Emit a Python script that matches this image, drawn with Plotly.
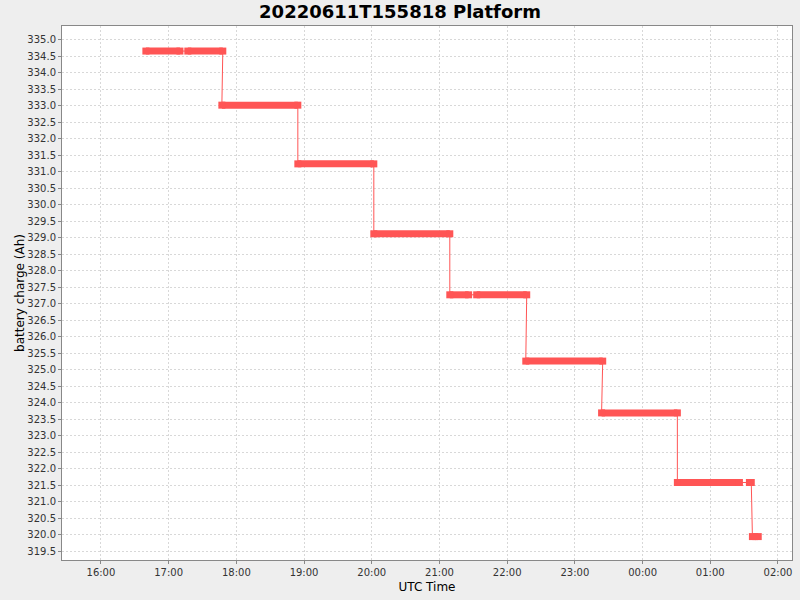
import plotly.graph_objects as go

# flat charge levels, each held between a start and an end time (UTC)
seg_start = ['2022-06-11 16:39:50', '2022-06-11 17:17:00', '2022-06-11 17:47:10',
             '2022-06-11 18:54:30', '2022-06-11 20:01:50', '2022-06-11 21:09:10',
             '2022-06-11 21:33:00', '2022-06-11 22:16:30', '2022-06-11 23:23:40',
             '2022-06-12 00:30:50', '2022-06-12 01:34:40', '2022-06-12 01:37:20']
seg_end = ['2022-06-11 17:10:00', '2022-06-11 17:48:00', '2022-06-11 18:54:30',
           '2022-06-11 20:01:50', '2022-06-11 21:09:10', '2022-06-11 21:25:50',
           '2022-06-11 22:17:20', '2022-06-11 23:24:40', '2022-06-12 00:30:50',
           '2022-06-12 01:25:50', '2022-06-12 01:36:20', '2022-06-12 01:42:30']
seg_value = [334.66, 334.66, 333.02, 331.24, 329.12, 327.27,
             327.27, 325.26, 323.69, 321.58, 321.58, 319.94]

y_ticks = [319.5 + 0.5 * i for i in range(32)]

RED = '#ff5555'

# thin line through every point, thick bar along every flat level
x_thin, y_thin, x_bar, y_bar = [], [], [], []
for s, e, v in zip(seg_start, seg_end, seg_value):
    x_thin += [s, e]
    y_thin += [v, v]
    x_bar += [s, e, None]
    y_bar += [v, v, None]

fig = go.Figure()
fig.add_trace(go.Scatter(x=x_thin, y=y_thin, mode='lines',
                         line=dict(color=RED, width=1), showlegend=False))
fig.add_trace(go.Scatter(x=x_bar, y=y_bar, mode='lines+markers',
                         line=dict(color=RED, width=7),
                         marker=dict(symbol='square', size=7, color=RED, line=dict(width=0)),
                         showlegend=False))

axis_common = dict(
    showline=True, linecolor='#888888', linewidth=1, mirror=True,
    showgrid=True, gridcolor='#d8d8d8', griddash='2px,2px', gridwidth=1,
    ticks='outside', ticklen=3, tickcolor='#888888',
    tickfont=dict(family='DejaVu Sans', size=10, color='#333333'),
    zeroline=False, automargin=False,
)

fig.update_xaxes(
    **axis_common,
    range=['2022-06-11 15:25:30', '2022-06-12 02:12:25'],
    tickformat='%H:%M', dtick=3600000, tick0='2022-06-11 16:00:00',
    title=dict(text='UTC Time', font=dict(family='DejaVu Sans', size=12, color='#000000'),
               standoff=5),
)
fig.update_yaxes(
    **axis_common,
    range=[319.23, 335.42],
    tickvals=y_ticks, ticktext=[f'{v:.1f}' for v in y_ticks],
    title=dict(text='battery charge (Ah)', font=dict(family='DejaVu Sans', size=12, color='#000000'),
               standoff=0),
)

fig.update_layout(
    width=800, height=600,
    title=dict(text='<b>20220611T155818 Platform</b>', x=0.5, xanchor='center',
               y=0.98, yanchor='middle',
               font=dict(family='DejaVu Sans', size=18, color='#000000')),
    paper_bgcolor='#eeeeee', plot_bgcolor='#ffffff',
    margin=dict(l=62, r=8, t=26, b=40),
)

# drop the page's default body margin so the figure sits at the window's corner
fig.write_html('out.html', config={'displayModeBar': False},
               post_script="document.body.style.margin='0';")
